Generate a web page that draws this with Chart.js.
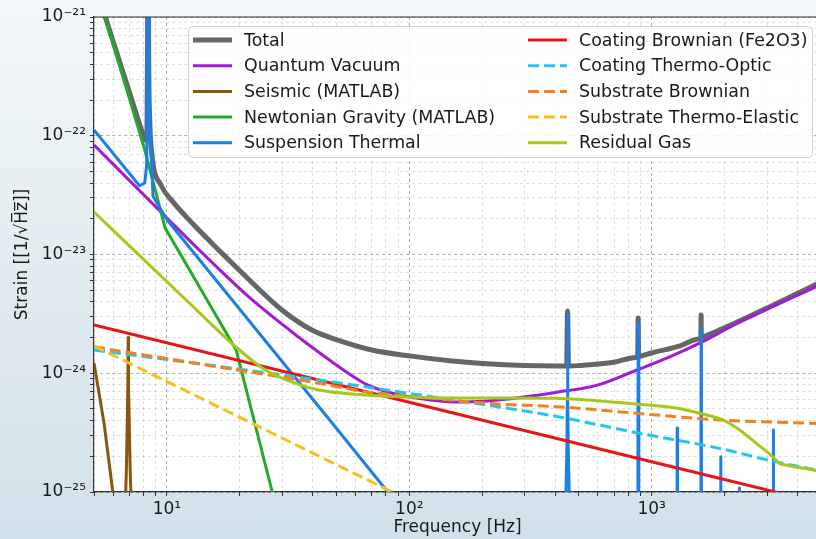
<!DOCTYPE html>
<html lang="en">

<head>
    <meta charset="UTF-8">
    <title>Noise Budget</title>
    <script src="https://cdn.jsdelivr.net/npm/chart.js"></script>
    <style>
        html, body { margin: 0; padding: 0; overflow: hidden; }
        body {
            width: 816px;
            height: 539px;
            background: linear-gradient(to bottom, #f3f7f9 0%, #e2ecf0 50%, #d1e1e9 100%);
        }
        #wrap { width: 816px; height: 539px; overflow: hidden; }
        canvas { display: block; }
    </style>
</head>

<body>
    <div id="wrap">
        <canvas id="budget" width="824" height="539"></canvas>
    </div>
    <script>
        // Series (frequency in Hz, strain in 1/sqrt(Hz))
        const totalFreq = [5, 5.55, 7.85, 8.1, 8.25, 8.31, 8.36, 8.41, 8.5, 8.63, 9.48, 10.4, 12.9, 15, 20, 30, 40, 50, 70, 100, 150, 200, 300, 400,
            440, 446, 450, 454, 460, 500, 700, 860, 876, 880, 884, 900, 1000, 1300, 1570, 1596, 1600, 1604, 1630, 2000, 3000, 5000];
        const totalStrain = [2.0e-21, 1.02e-21, 1.12e-22, 9.2e-23, 9.5e-23, 4.3e-22, 1e-20, 4.3e-22, 1.3e-22, 7.5e-23, 3.8e-23, 2.9e-23, 1.78e-23, 1.3e-23, 7.3e-24, 3.38e-24, 2.29e-24, 1.92e-24, 1.57e-24, 1.40e-24, 1.27e-24, 1.21e-24, 1.16e-24, 1.15e-24,
            1.15e-24, 1.15e-24, 3.34e-24, 1.15e-24, 1.15e-24, 1.16e-24, 1.24e-24, 1.36e-24, 1.38e-24, 2.92e-24, 1.38e-24, 1.39e-24, 1.48e-24, 1.69e-24, 1.94e-24, 1.97e-24, 3.1e-24, 1.98e-24, 2.01e-24, 2.41e-24, 3.55e-24, 5.86e-24];

        const quantumFreq = [5, 10, 13.6, 22.5, 35.1, 47.9, 57, 66.1, 80, 99.3, 159, 232, 410, 593, 865, 1194, 1585, 2228, 3072, 5000];
        const quantumStrain = [8.36e-23, 2.03e-23, 1.09e-23, 4.14e-24, 2.0e-24, 1.25e-24, 9.76e-25, 8.1e-25, 7.02e-25, 6.35e-25, 5.73e-25, 5.96e-25, 6.95e-25, 7.9e-25, 1.06e-24, 1.38e-24, 1.8e-24, 2.6e-24, 3.55e-24, 5.58e-24];

        const seismicFreq = [5, 5.5, 5.98, 6.3, 6.6, 6.8, 6.9, 6.92, 6.94, 7.05, 7.3, 8];
        const seismicStrain = [1.22e-24, 3.8e-25, 1.0e-25, 2e-26, 2e-26, 1.5e-25, 8e-25, 2.0e-24, 8e-25, 1.5e-25, 2e-26, 1e-27];

        const newtonianFreq = [5, 5.55, 8.1, 9.83, 19.3, 27.2, 35];
        const newtonianStrain = [2.0e-21, 1.0e-21, 7.6e-23, 1.67e-23, 1.57e-24, 1.0e-25, 1.2e-26];

        const suspensionFreq = [5, 7.7, 8.1, 8.25, 8.31, 8.36, 8.41, 8.5, 8.63, 8.76, 10, 20, 50, 80, 100, 150,
            430, 443, 447, 449, 450, 451, 453, 457, 470,
            875, 880, 885, 1270, 1275, 1280, 1595, 1600, 1605,
            1925, 1930, 1935, 2295, 2300, 2305, 3175, 3180, 3185, 5000];
        const suspensionStrain = [1.12e-22, 3.79e-23, 4.0e-23, 5.7e-23, 4.3e-22, 1e-20, 4.3e-22, 1.2e-22, 6.6e-23, 3.1e-23, 1.96e-23, 3.44e-24, 3.44e-25, 1.05e-25, 6.0e-26, 2e-26,
            1e-27, 1e-25, 2.3e-25, 6e-25, 3.1e-24, 6e-25, 2.3e-25, 1e-25, 1e-27,
            1e-27, 2.65e-24, 1e-27, 1e-27, 3.46e-25, 1e-27, 1e-27, 2.41e-24, 1e-27,
            1e-27, 1.98e-25, 1e-27, 1e-27, 1.08e-25, 1e-27, 1e-27, 3.33e-25, 1e-27, 1e-27];

        const coatBrownFreq = [5, 100, 1000, 5000];
        const coatBrownStrain = [2.55e-24, 5.7e-25, 1.8e-25, 8.06e-26];

        const coatOpticFreq = [5, 42.4, 99.3, 232, 410, 865, 1905, 2945, 5000];
        const coatOpticStrain = [1.57e-24, 8.77e-25, 6.78e-25, 5.23e-25, 4.31e-25, 3.16e-25, 2.33e-25, 1.88e-25, 1.5e-25];

        const subBrownFreq = [5, 13.6, 42.4, 65.9, 99.3, 232, 410, 865, 1905, 5000];
        const subBrownStrain = [1.67e-24, 1.2e-24, 8.22e-25, 7.0e-25, 6.43e-25, 5.51e-25, 5.23e-25, 4.6e-25, 4.04e-25, 3.77e-25];

        const subElasticFreq = [5, 100];
        const subElasticStrain = [1.7e-24, 8.5e-26];

        const gasFreq = [5, 12, 19.9, 25.6, 34, 42.4, 65.9, 99.3, 159, 395, 593, 865, 1263, 1581, 1970, 2307, 2692, 3162, 3368, 3574, 5000];
        const gasStrain = [2.28e-23, 4.14e-24, 1.57e-24, 1.06e-24, 8.22e-25, 7.22e-25, 6.56e-25, 6.31e-25, 6.19e-25, 6.15e-25, 5.87e-25, 5.51e-25, 5.1e-25, 4.6e-25, 4.04e-25, 3.33e-25, 2.59e-25, 1.98e-25, 1.74e-25, 1.69e-25, 1.49e-25];

        // tick decades
        const xDecades = [0, 1, 2, 3];
        const yDecades = [-25, -24, -23, -22, -21];

        const FONT = "'DejaVu Sans', sans-serif";

        function pairs(freq, strain) {
            return freq.map((f, i) => ({ x: f, y: strain[i] }));
        }

        function isMajor(v) {
            const l = Math.log10(v);
            return Math.abs(l - Math.round(l)) < 1e-6;
        }

        const supChars = { '-': '\u207B', '0': '\u2070', '1': '\u00B9', '2': '\u00B2', '3': '\u00B3', '4': '\u2074', '5': '\u2075', '6': '\u2076', '7': '\u2077', '8': '\u2078', '9': '\u2079' };
        function powLabel(v) {
            const e = String(Math.round(Math.log10(v)));
            return '10' + e.split('').map(c => supChars[c]).join('');
        }

        function logTicks(decades, min, max) {
            const out = [];
            decades.forEach(e => {
                for (let m = 1; m <= 9; m++) {
                    const v = m * Math.pow(10, e);
                    if (v >= min * 0.999 && v <= max * 1.001) out.push({ value: v });
                }
            });
            return out;
        }

        function line(label, freq, strain, color, width, dash) {
            return {
                label: label,
                data: pairs(freq, strain),
                borderColor: color,
                backgroundColor: color,
                borderWidth: width,
                borderDash: dash || [],
                pointRadius: 0,
                fill: false,
                clip: 0,
                tension: 0
            };
        }

        const datasets = [
            line('Total', totalFreq, totalStrain, '#666666', 5),
            line('Quantum Vacuum', quantumFreq, quantumStrain, '#a01cd6', 3),
            line('Seismic (MATLAB)', seismicFreq, seismicStrain, '#85580c', 3),
            line('Newtonian Gravity (MATLAB)', newtonianFreq, newtonianStrain, '#22aa2a', 3),
            line('Suspension Thermal', suspensionFreq, suspensionStrain, '#1c7fe6', 3),
            line('Coating Brownian (Fe2O3)', coatBrownFreq, coatBrownStrain, '#ea1418', 3),
            line('Coating Thermo-Optic', coatOpticFreq, coatOpticStrain, '#22c6ee', 3, [11, 5]),
            line('Substrate Brownian', subBrownFreq, subBrownStrain, '#f5801e', 3, [11, 5]),
            line('Substrate Thermo-Elastic', subElasticFreq, subElasticStrain, '#f6c01c', 3, [11, 5]),
            line('Residual Gas', gasFreq, gasStrain, '#a6c71c', 3)
        ];
        // smooth the broadband curves
        [0, 1, 6, 7, 9].forEach(i => { datasets[i].cubicInterpolationMode = 'monotone'; });
        // matplotlib draws the first series at the bottom
        datasets.forEach((d, i) => { d.order = datasets.length - i; });

        const frame = {
            id: 'frame',
            beforeDraw(chart) {
                const a = chart.chartArea;
                const c = chart.ctx;
                c.save();
                c.fillStyle = '#ffffff';
                c.fillRect(a.left, a.top, a.right - a.left, a.bottom - a.top);
                c.restore();
            },
            afterDatasetsDraw(chart) {
                const a = chart.chartArea;
                const c = chart.ctx;
                c.save();
                c.strokeStyle = '#333333';
                c.lineWidth = 1.2;
                c.beginPath();
                c.moveTo(a.left, a.top);
                c.lineTo(a.right, a.top);
                c.stroke();
                c.restore();
            },
            afterDraw(chart) {
                // two-column legend in the upper right, like matplotlib ncol=2
                const c = chart.ctx;
                const sets = chart.data.datasets;
                c.save();
                c.beginPath();
                c.roundRect(188.5, 26.5, 624, 131, 4);
                c.fillStyle = 'rgba(255,255,255,0.85)';
                c.fill();
                c.strokeStyle = '#d0d0d0';
                c.lineWidth = 1;
                c.stroke();
                c.font = '17.4px ' + FONT;
                c.textBaseline = 'middle';
                c.textAlign = 'left';
                sets.forEach((d, i) => {
                    const col = i < 5 ? 0 : 1;
                    const row = i % 5;
                    const x = col === 0 ? 193 : 528;
                    const y = 40 + row * 25.7;
                    c.beginPath();
                    c.setLineDash(d.borderDash || []);
                    c.strokeStyle = d.borderColor;
                    c.lineWidth = d.borderWidth;
                    c.moveTo(x, y);
                    c.lineTo(x + 39, y);
                    c.stroke();
                    c.setLineDash([]);
                    c.fillStyle = '#1a1a1a';
                    c.fillText(d.label, x + 51, y + 1);
                });
                c.restore();
            }
        };

        const gridColor = ctx => (ctx.tick && isMajor(ctx.tick.value)) ? 'rgba(0,0,0,0.32)' : 'rgba(0,0,0,0.13)';

        const chart = new Chart(document.getElementById('budget'), {
            type: 'line',
            data: { datasets: datasets },
            plugins: [frame],
            options: {
                responsive: false,
                animation: false,
                layout: { padding: { top: 17, right: 0, bottom: 0, left: 0 } },
                plugins: {
                    legend: { display: false },
                    tooltip: { enabled: false }
                },
                elements: { line: { borderJoinStyle: 'round' } },
                scales: {
                    x: {
                        type: 'logarithmic',
                        min: 5,
                        max: 5000,
                        afterBuildTicks: s => { s.ticks = logTicks(xDecades, 5, 5000); },
                        afterFit: s => { s.height = 47; },
                        grid: { color: gridColor, lineWidth: 1, tickLength: 4, tickColor: '#333333' },
                        border: { color: '#333333', width: 1.2, dash: [3, 3] },
                        ticks: {
                            autoSkip: false,
                            maxRotation: 0,
                            padding: 3,
                            color: '#1a1a1a',
                            font: { family: FONT, size: 17 },
                            callback: v => isMajor(v) ? powLabel(v) : ''
                        },
                        title: {
                            display: true,
                            text: 'Frequency [Hz]',
                            color: '#1a1a1a',
                            font: { family: FONT, size: 17 },
                            padding: { top: 0, bottom: 1 }
                        }
                    },
                    y: {
                        type: 'logarithmic',
                        min: 1e-25,
                        max: 1e-21,
                        afterBuildTicks: s => { s.ticks = logTicks(yDecades, 1e-25, 1e-21); },
                        afterFit: s => { s.width = 94; },
                        grid: { color: gridColor, lineWidth: 1, tickLength: 4, tickColor: '#333333' },
                        border: { color: '#333333', width: 1.2, dash: [3, 3] },
                        ticks: {
                            autoSkip: false,
                            padding: 4,
                            color: '#1a1a1a',
                            font: { family: FONT, size: 17 },
                            callback: v => isMajor(v) ? powLabel(v) : ''
                        },
                        title: {
                            display: true,
                            text: 'Strain [[1/\u221AH\u0305z\u0305]]',
                            color: '#1a1a1a',
                            font: { family: FONT, size: 17 },
                            padding: { top: 12, bottom: 0 }
                        }
                    }
                }
            }
        });
    </script>
</body>

</html>
